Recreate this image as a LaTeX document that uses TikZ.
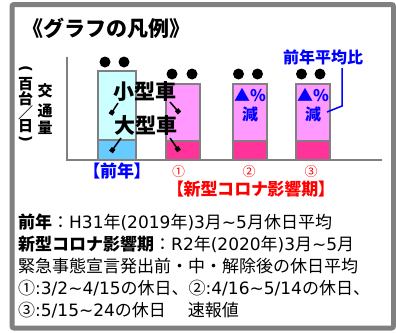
\documentclass[tikz,border=0pt]{standalone}
\usepackage{fontspec}
\setmainfont{Noto Sans CJK JP}
\newfontfamily\lat{DejaVu Sans}
\newfontfamily\jpp{Noto Sans CJK JP}[RawFeature=+palt]
\usetikzlibrary{arrows.meta}
\definecolor{framegray}{HTML}{808080}
\definecolor{cyanlight}{HTML}{CCFFFF}
\definecolor{bluebar}{HTML}{66CCFF}
\definecolor{pinklight}{HTML}{FF99FF}
\definecolor{pinkbar}{HTML}{FF3399}
\definecolor{textblue}{HTML}{0000FF}
\definecolor{textred}{HTML}{FF0000}
\newcommand\fsz[2]{\fontsize{#1}{#2}\selectfont}
\newcommand\lt[1]{{\lat #1}}
\begin{document}
\begin{tikzpicture}[x=1pt,y=-1pt,
  barpart/.style={draw=framegray, line width=2pt},
  axisline/.style={draw=framegray, line width=2.5pt},
  blackdot/.style={circle, fill=black, minimum size=11pt, inner sep=0pt},
  plain/.style={inner sep=0pt},
  vchar/.style={plain, font=\bfseries\fsz{15}{15}},
  cartext/.style={plain, font=\bfseries\fsz{21}{21}},
  pctext/.style={plain, text=textblue, font=\bfseries\fsz{16}{16}},
  circnum/.style={plain, text=textred, font=\fsz{13}{13}},
  bodytext/.style={plain, anchor=base west, font=\fsz{17}{17}},
  pointer/.style={line width=1.5pt, -{Square[length=4.5pt,width=4.5pt]}},
  bluepointer/.style={draw=textblue, line width=1.5pt}
]
\useasboundingbox (0,0) rectangle (396,332);
\fill[white] (0,0) rectangle (396,332);
% frame
\draw[draw=framegray, line width=5pt, rounded corners=2pt] (12,4.5) rectangle (393.5,328);
% title
\node[plain, anchor=base west, font=\bfseries\fsz{21}{21}] (title) at (22,36.5) {《グラフの凡例》};
% axis labels (vertical)
\node[vchar] (u1) at (25.5,69) {\rotatebox{-90}{\lt{\bfseries(}}};
\node[vchar] (u2) at (25.5,84.5) {百};
\node[vchar] (u3) at (25.5,98.5) {台};
\node[vchar] (u4) at (25.5,112.5) {／};
\node[vchar] (u5) at (25.5,126.5) {日};
\node[vchar] (u6) at (25.5,139) {\rotatebox{-90}{\lt{\bfseries)}}};
\node[vchar] (q1) at (45,91) {交};
\node[vchar] (q2) at (45,111) {通};
\node[vchar] (q3) at (45,128) {量};
% bars
\draw[barpart, fill=cyanlight] (98,71) rectangle (136,140);
\draw[barpart, fill=bluebar] (98,140) rectangle (136,160);
\draw[barpart, fill=pinklight] (166,84) rectangle (200,141);
\draw[barpart, fill=pinkbar] (166,141) rectangle (200,160);
\draw[barpart, fill=pinklight] (233,84) rectangle (267,141);
\draw[barpart, fill=pinkbar] (233,141) rectangle (267,160);
\draw[barpart, fill=pinklight] (296,84) rectangle (330,141);
\draw[barpart, fill=pinkbar] (296,141) rectangle (330,160);
% axes
\draw[axisline] (67,57) -- (67,160) -- (382,160);
% dots
\node[blackdot] (d1a) at (105,62) {};
\node[blackdot] (d1b) at (124,62) {};
\node[blackdot] (d2a) at (172,74) {};
\node[blackdot] (d2b) at (192,74) {};
\node[blackdot] (d3a) at (238.5,74) {};
\node[blackdot] (d3b) at (257.5,74) {};
\node[blackdot] (d4a) at (301.5,74) {};
\node[blackdot] (d4b) at (320,74) {};
% car type labels
\node[cartext] (small) at (145,91.5) {小型車};
\node[cartext] (large) at (146,126) {大型車};
\coordinate (p1s) at (118,103); \coordinate (p1e) at (110.5,114.5);
\coordinate (p2s) at (170,102); \coordinate (p2e) at (179.5,113);
\coordinate (p3s) at (121,138); \coordinate (p3e) at (111,152);
\coordinate (p4s) at (170,138); \coordinate (p4e) at (179,151);
\draw[pointer] (p1s) -- (p1e);
\draw[pointer] (p2s) -- (p2e);
\draw[pointer] (p3s) -- (p3e);
\draw[pointer] (p4s) -- (p4e);
% percent labels
\node[pctext] (pc3) at (250,95.5) {▲\%};
\node[pctext] (dec3) at (250,114.5) {減};
\node[pctext] (pc4) at (313,95.5) {▲\%};
\node[pctext] (dec4) at (313,114.5) {減};
\node[pctext] (ratio) at (323,57) {前年平均比};
\coordinate (b1) at (342,68); \coordinate (b2) at (342,106); \coordinate (b3) at (327,112);
\draw[bluepointer] (b1) -- (b2) -- (b3);
% x labels
\node[plain, text=textblue, font=\jpp\bfseries\fsz{17}{17}] (prev) at (117,171) {【前年】};
\node[circnum] (n1) at (178.5,171.5) {①};
\node[circnum] (n2) at (249,171.5) {②};
\node[circnum] (n3) at (311,171.5) {③};
\node[plain, text=textred, font=\jpp\bfseries\fsz{17}{17}] (corona) at (251,189.5) {【新型コロナ影響期】};
% legend text
\node[bodytext] (l1) at (18,228) {\textbf{前年}：\lt{H31}年\lt{(2019}年\lt{)3}月\lt{\textasciitilde5}月休日平均};
\node[bodytext] (l2) at (18,250.3) {\textbf{新型コロナ影響期}：\lt{R2}年\lt{(2020}年\lt{)3}月\lt{\textasciitilde5}月};
\node[bodytext] (l3) at (18,272.5) {緊急事態宣言発出前・中・解除後の休日平均};
\node[bodytext] (l4) at (18,294.5) {①\lt{:3/2\textasciitilde4/15}の休日、②\lt{:4/16\textasciitilde5/14}の休日、};
\node[bodytext] (l5) at (18,316) {③\lt{:5/15\textasciitilde24}の休日\hspace{22pt}速報値};
\end{tikzpicture}
\end{document}
